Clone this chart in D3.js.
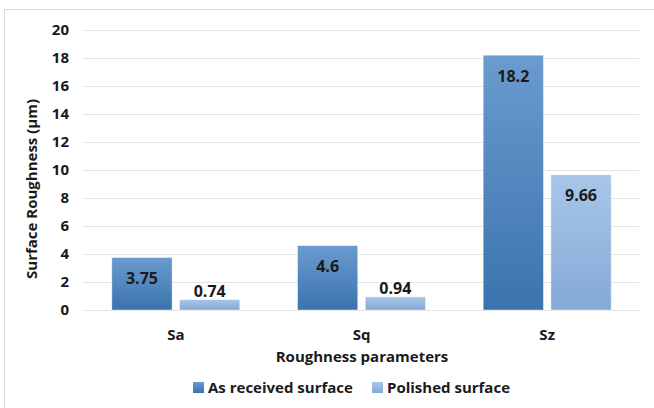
<!DOCTYPE html>
<html><head><meta charset="utf-8">
<script src="https://cdn.jsdelivr.net/npm/d3@7"></script>
<style>body{margin:0;background:#fff;} text{font-family:"Open Sans",sans-serif;font-weight:bold;fill:#1a1a1a;}</style>
</head><body>
<svg id="c" width="654" height="408"></svg>
<script>
const categories = ["Sa", "Sq", "Sz"];
const seriesNames = ["As received surface", "Polished surface"];
const asReceived = [3.75, 4.6, 18.2];
const polished = [0.74, 0.94, 9.66];
const yTicks = [0, 2, 4, 6, 8, 10, 12, 14, 16, 18, 20];

const svg = d3.select("#c");
svg.append("rect").attr("x", 4.5).attr("y", 9.5).attr("width", 660).attr("height", 410)
  .attr("fill", "#fff").attr("stroke", "#d9d9d9");

const defs = svg.append("defs");
const grads = [["g0", "#6b9bcf", "#3b73ae"], ["g1", "#a9c6e8", "#84a9d6"]];
grads.forEach(([id, a, b]) => {
  const g = defs.append("linearGradient").attr("id", id).attr("x1", 0).attr("y1", 0).attr("x2", 0).attr("y2", 1);
  g.append("stop").attr("offset", "0%").attr("stop-color", a);
  g.append("stop").attr("offset", "100%").attr("stop-color", b);
});

const x0 = d3.scaleBand().domain(categories).range([83, 640]).paddingInner(0).paddingOuter(0);
const y = d3.scaleLinear().domain([0, 20]).range([310, 30]);
const x1 = d3.scaleBand().domain([0, 1]).range([0, 128]).paddingInner(0.11);

// gridlines
svg.append("g").selectAll("line").data(yTicks).join("line")
  .attr("x1", 83).attr("x2", 639).attr("y1", d => y(d) + 0.5).attr("y2", d => y(d) + 0.5)
  .attr("stroke", "#e3e3e3").attr("stroke-width", 1);

// y axis labels
const yAxis = d3.axisLeft(y).tickValues(yTicks).tickSize(0).tickPadding(0);
const ya = svg.append("g").attr("transform", "translate(69,0)").call(yAxis);
ya.select(".domain").remove();
ya.selectAll("text").style("font-size", "15px").style("font-family", "Open Sans").style("font-weight", "bold").attr("fill", "#1a1a1a");

// x axis labels
const xAxis = d3.axisBottom(x0).tickSize(0).tickPadding(0);
const xa = svg.append("g").attr("transform", "translate(0,329)").call(xAxis);
xa.select(".domain").remove();
xa.selectAll("text").style("font-size", "15px").style("font-family", "Open Sans").style("font-weight", "bold").attr("fill", "#1a1a1a");

const data = categories.map((c, i) => ({c, vals: [asReceived[i], polished[i]]}));
const groups = svg.append("g").selectAll("g").data(data).join("g")
  .attr("transform", d => `translate(${x0(d.c) + (x0.bandwidth() - 128) / 2},0)`);

groups.selectAll("rect").data(d => d.vals.map((v, k) => ({v, k}))).join("rect")
  .attr("x", d => x1(d.k)).attr("width", x1.bandwidth())
  .attr("y", d => y(d.v)).attr("height", d => y(0) - y(d.v))
  .attr("fill", d => `url(#g${d.k})`).attr("stroke", "rgba(255,255,255,0.6)").attr("stroke-width", 0.7);

groups.selectAll("text.v").data(d => d.vals.map((v, k) => ({v, k}))).join("text")
  .attr("class", "v")
  .attr("x", d => x1(d.k) + x1.bandwidth() / 2)
  .attr("y", d => (y(0) - y(d.v) > 30) ? y(d.v) + 21 : y(d.v) - 8)
  .attr("dy", "0.35em").attr("text-anchor", "middle").style("font-size", "16px")
  .text(d => d.v);

// axis titles
svg.append("text").attr("transform", "translate(32,189) rotate(-90)").attr("text-anchor", "middle")
  .attr("dy", "0.35em").style("font-size", "15px").text("Surface Roughness (μm)");
svg.append("text").attr("x", 362).attr("y", 357).attr("dy", "0.35em").attr("text-anchor", "middle")
  .style("font-size", "15px").text("Roughness parameters");

// legend
const leg = svg.append("g");
const legX = [193, 372];
seriesNames.forEach((n, i) => {
  leg.append("rect").attr("x", legX[i]).attr("y", 382).attr("width", 11).attr("height", 11).attr("fill", `url(#g${i})`);
  leg.append("text").attr("x", legX[i] + 15).attr("y", 388).attr("dy", "0.35em").style("font-size", "15px").text(n);
});
</script>
</body></html>
